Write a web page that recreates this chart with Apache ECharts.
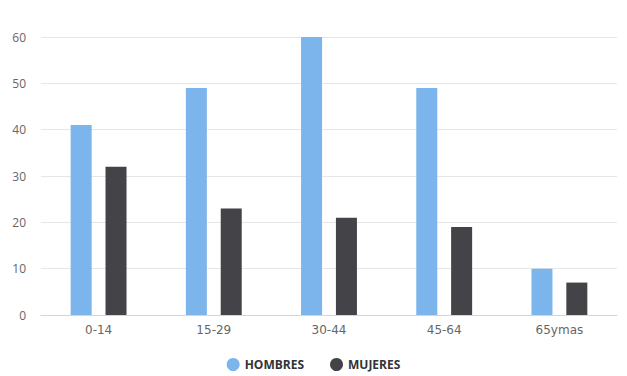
<!DOCTYPE html>
<html>
<head>
<meta charset="utf-8">
<script src="https://cdn.jsdelivr.net/npm/echarts@6/dist/echarts.min.js"></script>
<style>
  html, body { margin: 0; padding: 0; background: #fff; }
  #chart { width: 627px; height: 376px; }
</style>
</head>
<body>
<div id="chart"></div>
<script>
var categories = ['0-14', '15-29', '30-44', '45-64', '65ymas'];
var hombres = [41, 49, 60, 49, 10];
var mujeres = [32, 23, 21, 19, 7];
var yTicks = { min: 0, max: 60, interval: 10 };

var chart = echarts.init(document.getElementById('chart'), null, { renderer: 'svg' });
chart.setOption({
  animation: false,
  textStyle: { fontFamily: 'Open Sans' },
  grid: { left: 41, right: 10, top: 37, bottom: 61 },
  legend: {
    data: ['HOMBRES', 'MUJERES'],
    bottom: 0,
    left: 'center',
    icon: 'circle',
    itemWidth: 13,
    itemHeight: 13,
    itemGap: 26,
    textStyle: { color: '#333333', fontSize: 12, fontWeight: 'bold' }
  },
  xAxis: {
    type: 'category',
    data: categories,
    axisLine: { lineStyle: { color: '#ccd6eb' } },
    axisTick: { show: false },
    axisLabel: { color: '#666666', fontSize: 12, margin: 9, fontFamily: 'DejaVu Sans' }
  },
  yAxis: {
    type: 'value',
    min: yTicks.min,
    max: yTicks.max,
    interval: yTicks.interval,
    axisLine: { show: false },
    axisTick: { show: false },
    splitLine: { lineStyle: { color: '#e6e6e6' } },
    axisLabel: { color: '#666666', fontSize: 12, margin: 15 }
  },
  series: [
    {
      name: 'HOMBRES',
      type: 'bar',
      data: hombres,
      barWidth: 21,
      barGap: '66%',
      itemStyle: { color: '#7cb5ec' }
    },
    {
      name: 'MUJERES',
      type: 'bar',
      data: mujeres,
      barWidth: 21,
      itemStyle: { color: '#434348' }
    }
  ]
});
</script>
</body>
</html>
